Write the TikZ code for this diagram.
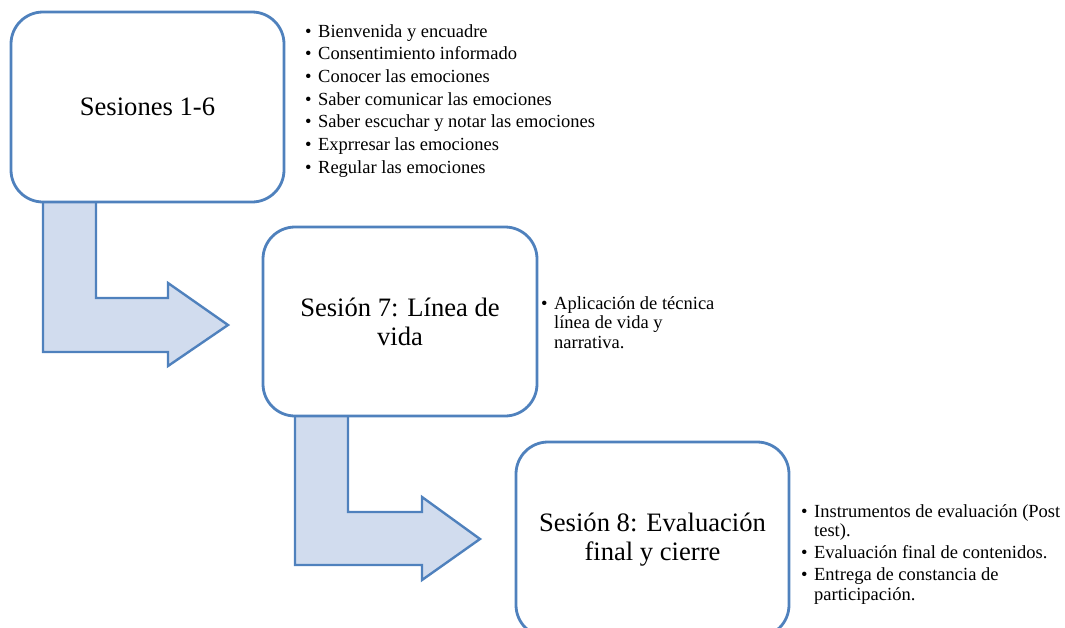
\documentclass[tikz,border=0pt]{standalone}
\usepackage{fontspec}
\setmainfont{Liberation Serif}
\definecolor{bord}{HTML}{4F81BD}
\definecolor{afill}{HTML}{D1DCEE}
\tikzset{
  sbox/.style={draw=bord, line width=2.8pt, rounded corners=32pt, fill=white,
    inner sep=0pt, align=center, font=\fontsize{26.6}{29}\selectfont},
  bentarrow/.style={draw=bord, line width=2.4pt, fill=afill, line join=miter},
  listtxt/.style={inner sep=0pt, anchor=base west, align=left},
}
\begin{document}
\begin{tikzpicture}[x=1pt, y=-1pt]
\path[use as bounding box] (0,0) rectangle (1065,627);
\clip (0,0) rectangle (1065,627);
% bent arrows (drawn first, under the boxes)
\draw[bentarrow] (43,195) -- (96,195) -- (96,298) -- (168,298) -- (168,283)
  -- (228,325) -- (168,366) -- (168,352) -- (43,352) -- cycle;
\draw[bentarrow] (295,410) -- (348,410) -- (348,512) -- (422,512) -- (422,497)
  -- (480,539) -- (422,580) -- (422,565) -- (295,565) -- cycle;
% boxes
\node[sbox, minimum width=273pt, minimum height=190pt] (b1) at (147.5,107) {Sesiones 1-6};
\node[sbox, minimum width=274pt, minimum height=189pt] (b2) at (400,321.5) {Sesión 7: Línea de\\vida};
\node[sbox, minimum width=273pt, minimum height=195pt] (b3) at (652.5,539.5) {Sesión 8: Evaluación\\final y cierre};
% lists
\node[listtxt, font=\fontsize{18.5}{22.7}\selectfont] (l1) at (305,37) {%
\begin{tabular}[t]{@{}l@{\hspace{6.5pt}}l@{}}
\textbullet & Bienvenida y encuadre\\
\textbullet & Consentimiento informado\\
\textbullet & Conocer las emociones\\
\textbullet & Saber comunicar las emociones\\
\textbullet & Saber escuchar y notar las emociones\\
\textbullet & Exprresar las emociones\\
\textbullet & Regular las emociones
\end{tabular}};
\node[listtxt, font=\fontsize{18.5}{19.5}\selectfont] (l2) at (541,309) {%
\begin{tabular}[t]{@{}l@{\hspace{6.5pt}}l@{}}
\textbullet & Aplicación de técnica\\
 & línea de vida y\\
 & narrativa.
\end{tabular}};
\node[listtxt, font=\fontsize{18.5}{19.5}\selectfont] (l3) at (801,517) {%
\begin{tabular}[t]{@{}l@{\hspace{6.5pt}}l@{}}
\textbullet & Instrumentos de evaluación (Post\\
 & test).\\[2.5pt]
\textbullet & Evaluación final de contenidos.\\[2.5pt]
\textbullet & Entrega de constancia de\\
 & participación.
\end{tabular}};
\end{tikzpicture}
\end{document}
